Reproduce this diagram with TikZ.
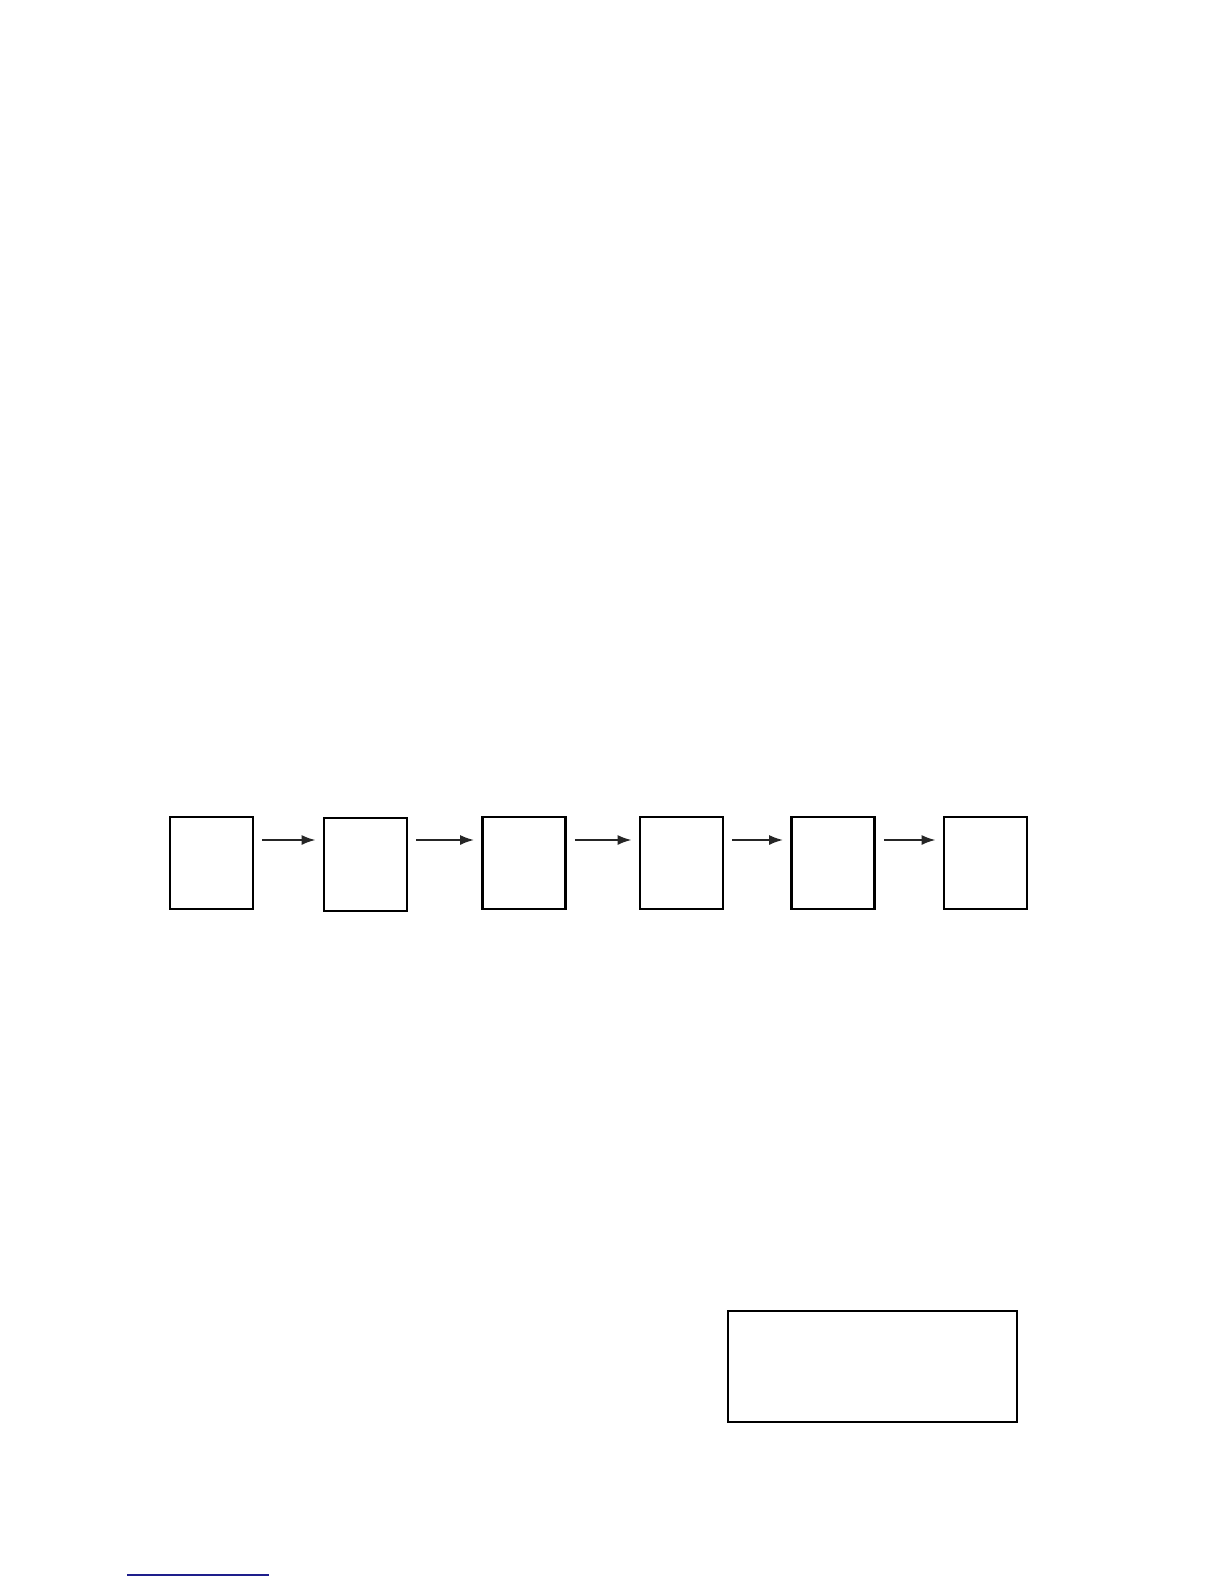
\documentclass[tikz,border=0pt]{standalone}
\usetikzlibrary{arrows.meta,positioning}
\tikzset{>={Latex[length=7pt,width=5pt]}}
\definecolor{rulenavy}{RGB}{30,30,140}
\tikzset{
  stage/.style={draw, line width=1.3pt, minimum width=41.5pt, minimum height=46pt, inner sep=0pt},
  flow/.style={->, line width=1.1pt, draw=black!85, shorten <=4pt, shorten >=3.5pt},
  notebox/.style={draw, line width=0.8pt, minimum width=144.5pt, minimum height=55.5pt, inner sep=0pt}
}

\begin{document}
\begin{tikzpicture}[x=0.5pt,y=-0.5pt]
\useasboundingbox (0,0) rectangle (1224,1584);
\coordinate (lane) at (0,840);
\node[stage] (s1) at (211.5,863) {};
\node[stage, minimum height=46.5pt] (s2) at (365.5,864.5) {};
\node[stage] (s3) at (524,863) {};
\node[stage] (s4) at (681.5,863) {};
\node[stage] (s5) at (833,863) {};
\node[stage] (s6) at (985.5,863) {};
\foreach \a/\b in {s1/s2,s2/s3,s3/s4,s4/s5,s5/s6}
  \draw[flow] (\a.east |- lane) -- (\b.west |- lane);
\node[notebox] (note) at (872.5,1366.5) {};
\draw[rulenavy, line width=0.6pt] (127,1575) -- (269,1575);
\end{tikzpicture}
\end{document}
